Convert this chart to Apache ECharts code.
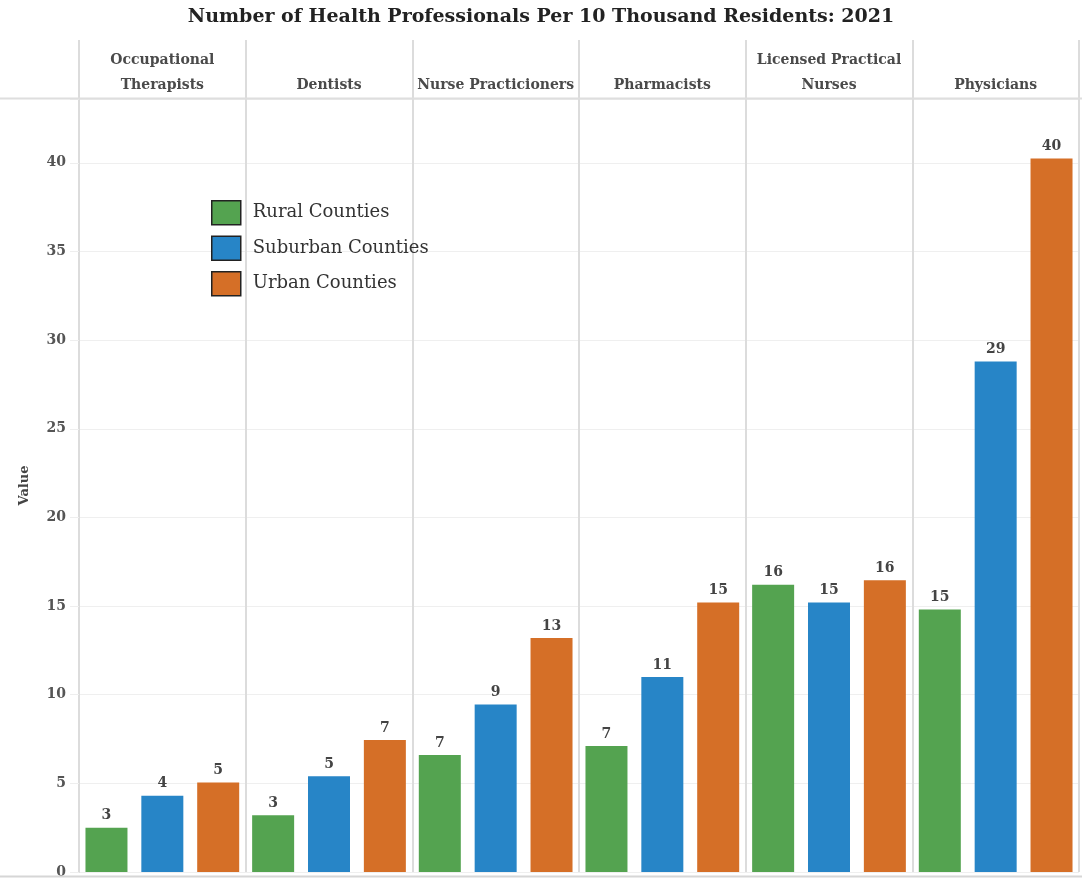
<!DOCTYPE html>
<html>
<head>
<meta charset="utf-8">
<script src="https://cdn.jsdelivr.net/npm/echarts@6/dist/echarts.min.js"></script>
<style>
html,body{margin:0;padding:0;background:#fff;}
#chart{width:1082px;height:879px;}
</style>
</head>
<body>
<div id="chart"></div>
<script>
// Panel (category) header labels
var categories = ['Occupational\nTherapists', 'Dentists', 'Nurse Practicioners', 'Pharmacists', 'Licensed Practical\nNurses', 'Physicians'];
var seriesNames = ['Rural Counties', 'Suburban Counties', 'Urban Counties'];
var ruralValues = [2.5, 3.2, 6.6, 7.1, 16.2, 14.8];
var suburbanValues = [4.3, 5.4, 9.45, 11.0, 15.2, 28.8];
var urbanValues = [5.05, 7.45, 13.2, 15.2, 16.45, 40.25];
var yTicks = [0, 5, 10, 15, 20, 25, 30, 35, 40];

var colors = ['#54A350', '#2785C7', '#D56F27'];
var serif = '"DejaVu Serif", "Liberation Serif", serif';
var gridLineColor = '#dcdcdc';

var chart = echarts.init(document.getElementById('chart'), null, {renderer: 'canvas'});

function makeSeries(name, data, color) {
  return {
    name: name,
    type: 'bar',
    xAxisIndex: 0,
    yAxisIndex: 0,
    data: data,
    barWidth: 42,
    barGap: '33%',
    itemStyle: {color: color},
    label: {
      show: true,
      position: 'top',
      distance: 5,
      fontFamily: serif,
      fontWeight: 'bold',
      fontSize: 14,
      color: '#444',
      formatter: function (p) { return Math.round(p.value); }
    },
    emphasis: {disabled: true}
  };
}

var option = {
  animation: false,
  backgroundColor: '#fff',
  title: {
    text: 'Number of Health Professionals Per 10 Thousand Residents: 2021',
    left: 'center',
    top: 3,
    textStyle: {fontFamily: serif, fontWeight: 'bold', fontSize: 19, color: '#222'}
  },
  legend: {
    orient: 'vertical',
    left: 206,
    top: 195,
    itemWidth: 29,
    itemHeight: 24,
    itemGap: 10,
    icon: 'rect',
    data: seriesNames,
    itemStyle: {borderColor: '#222', borderWidth: 1.5},
    textStyle: {fontFamily: serif, fontSize: 18, color: '#333', padding: [0, 0, 0, 7]}
  },
  grid: [
    {left: 79, right: 3, top: 99, bottom: 3, containLabel: false},
    {left: 79, right: 3, top: 40, height: 59, containLabel: false}
  ],
  xAxis: [
    {
      type: 'category',
      gridIndex: 0,
      data: categories,
      axisLabel: {show: false},
      axisTick: {show: false},
      axisLine: {show: false},
      splitLine: {show: true, lineStyle: {color: gridLineColor, width: 2}}
    },
    {
      type: 'category',
      gridIndex: 1,
      data: categories,
      position: 'bottom',
      axisTick: {show: false},
      axisLine: {show: false},
      splitLine: {show: true, lineStyle: {color: gridLineColor, width: 2}},
      axisLabel: {
        show: true,
        inside: true,
        margin: 0,
        interval: 0,
        verticalAlign: 'bottom',
        fontFamily: serif,
        fontWeight: 'bold',
        fontSize: 14,
        lineHeight: 25,
        padding: [0, 0, 1, 0],
        color: '#4a4a4a'
      }
    }
  ],
  yAxis: [
    {
      type: 'value',
      gridIndex: 0,
      min: 0,
      max: 43.6,
      interval: 5,
      name: 'Value',
      nameLocation: 'middle',
      nameGap: 48,
      nameRotate: 90,
      nameTextStyle: {fontFamily: serif, fontWeight: 'bold', fontSize: 13, color: '#444'},
      axisLine: {show: true, lineStyle: {color: gridLineColor, width: 2}},
      axisTick: {show: true, length: 9, lineStyle: {color: '#eeeeee'}},
      axisLabel: {
        margin: 13,
        fontFamily: serif,
        fontWeight: 'bold',
        fontSize: 14,
        color: '#555',
        formatter: function (v) { return yTicks.indexOf(v) >= 0 ? String(v) : ''; }
      },
      splitLine: {show: true, lineStyle: {color: '#efefef', width: 1}}
    },
    {
      type: 'value',
      gridIndex: 1,
      show: false,
      axisLine: {show: false},
      splitLine: {show: false}
    }
  ],
  graphic: [
    {type: 'line', shape: {x1: 0, y1: 98.5, x2: 1082, y2: 98.5}, style: {stroke: '#dedede', lineWidth: 2}, z: 10},
    {type: 'line', shape: {x1: 0, y1: 876.5, x2: 1082, y2: 876.5}, style: {stroke: '#d6d6d6', lineWidth: 2}, z: 10}
  ],
  series: [
    makeSeries(seriesNames[0], ruralValues, colors[0]),
    makeSeries(seriesNames[1], suburbanValues, colors[1]),
    makeSeries(seriesNames[2], urbanValues, colors[2])
  ]
};

chart.setOption(option);
</script>
</body>
</html>
